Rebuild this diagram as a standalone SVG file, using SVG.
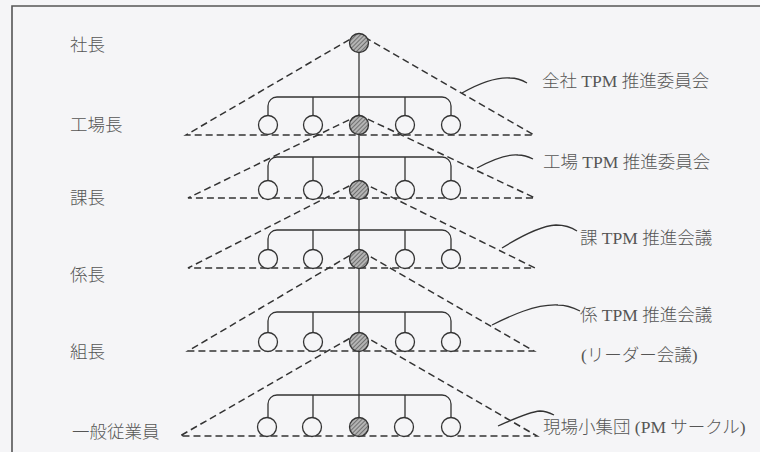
<svg xmlns="http://www.w3.org/2000/svg" width="760" height="452" viewBox="0 0 760 452">
<defs>
<pattern id="hatch" width="3" height="3" patternUnits="userSpaceOnUse" patternTransform="rotate(45)">
<rect width="3" height="3" fill="#b4b4b4"/>
<line x1="0" y1="0" x2="0" y2="3" stroke="#444" stroke-width="1.2"/>
</pattern>
<style>
.bg{fill:#f5f5f7}
.frame{stroke:#555;stroke-width:1.6;fill:none}
.dash{stroke:#333;stroke-width:1.5;stroke-dasharray:7 4;fill:none}
.ln{stroke:#333;stroke-width:1.3;fill:none}
.open{fill:#f5f5f7;stroke:#333;stroke-width:1.3}
.hat{fill:url(#hatch);stroke:#333;stroke-width:1.3}
.t{font-family:"Liberation Serif","Noto Sans CJK JP",serif;font-size:17.5px;font-weight:300;fill:#555}
</style>
</defs>
<rect class="bg" x="0" y="0" width="760" height="452"/>
<path class="frame" d="M12 452 V6 H760"/>

<g id="triangles">
<path class="dash" d="M359 34 L186 135 H534 Z"/>
<path class="dash" d="M359 115 L188 198 H535 Z"/>
<path class="dash" d="M359 181 L188 268 H535 Z"/>
<path class="dash" d="M359 250 L188 351 H534 Z"/>
<path class="dash" d="M359 333 L180 436 H537 Z"/>
</g>

<g id="connectors">
<line class="ln" x1="359" y1="43" x2="359" y2="418"/>
<path class="ln" d="M268 115.5 V106 A9 9 0 0 1 277 97 H442 A9 9 0 0 1 451 106 V115.5 M313 97 V115.5 M405 97 V115.5"/>
<path class="ln" d="M268 180.5 V166 A9 9 0 0 1 277 157 H442 A9 9 0 0 1 451 166 V180.5 M313 157 V180.5 M405 157 V180.5"/>
<path class="ln" d="M268 249.5 V239 A9 9 0 0 1 277 230 H442 A9 9 0 0 1 451 239 V249.5 M313 230 V249.5 M405 230 V249.5"/>
<path class="ln" d="M268 332.5 V321 A9 9 0 0 1 277 312 H442 A9 9 0 0 1 451 321 V332.5 M313 312 V332.5 M405 312 V332.5"/>
<path class="ln" d="M268 417.5 V404 A9 9 0 0 1 277 395 H442 A9 9 0 0 1 451 404 V417.5 M313 395 V417.5 M405 395 V417.5"/>
<path class="ln" d="M462 93 C478 84 496 77 510 78 C517 78 522 80 527 83"/>
<path class="ln" d="M477 168 C490 161 506 154 518 155 C525 155 529 157 533 159"/>
<path class="ln" d="M502 248 C518 238 540 226 556 225 C565 225 571 227 577 231"/>
<path class="ln" d="M492 325 C510 316 535 304 558 305 C568 305 574 308 580 311"/>
<path class="ln" d="M498 426 C512 420 528 412 540 411 C546 411 550 413 554 415"/>
</g>

<g id="level-1">
<circle class="hat" cx="359" cy="43" r="9.5"/>
<text class="t" x="70" y="51">社長</text>
</g>
<g id="level-2">
<circle class="open" cx="268" cy="125" r="9.5"/>
<circle class="open" cx="313" cy="125" r="9.5"/>
<circle class="hat" cx="359" cy="125" r="9.5"/>
<circle class="open" cx="405" cy="125" r="9.5"/>
<circle class="open" cx="451" cy="125" r="9.5"/>
<text class="t" x="70" y="131">工場長</text>
</g>
<g id="level-3">
<circle class="open" cx="268" cy="190" r="9.5"/>
<circle class="open" cx="313" cy="190" r="9.5"/>
<circle class="hat" cx="359" cy="190" r="9.5"/>
<circle class="open" cx="405" cy="190" r="9.5"/>
<circle class="open" cx="451" cy="190" r="9.5"/>
<text class="t" x="70" y="204">課長</text>
</g>
<g id="level-4">
<circle class="open" cx="268" cy="259" r="9.5"/>
<circle class="open" cx="313" cy="259" r="9.5"/>
<circle class="hat" cx="359" cy="259" r="9.5"/>
<circle class="open" cx="405" cy="259" r="9.5"/>
<circle class="open" cx="451" cy="259" r="9.5"/>
<text class="t" x="70" y="281">係長</text>
</g>
<g id="level-5">
<circle class="open" cx="268" cy="342" r="9.5"/>
<circle class="open" cx="313" cy="342" r="9.5"/>
<circle class="hat" cx="359" cy="342" r="9.5"/>
<circle class="open" cx="405" cy="342" r="9.5"/>
<circle class="open" cx="451" cy="342" r="9.5"/>
<text class="t" x="70" y="358">組長</text>
</g>
<g id="level-6">
<circle class="open" cx="267" cy="427" r="9.5"/>
<circle class="open" cx="312" cy="427" r="9.5"/>
<circle class="hat" cx="359" cy="427" r="9.5"/>
<circle class="open" cx="404" cy="427" r="9.5"/>
<circle class="open" cx="451" cy="427" r="9.5"/>
<text class="t" x="72" y="438">一般従業員</text>
</g>

<g id="committee-1"><text class="t" x="542" y="87">全社 TPM 推進委員会</text></g>
<g id="committee-2"><text class="t" x="543" y="168">工場 TPM 推進委員会</text></g>
<g id="committee-3"><text class="t" x="580" y="244">課 TPM 推進会議</text></g>
<g id="committee-4"><text class="t" x="580" y="321">係 TPM 推進会議</text><text class="t" x="581" y="361">(リーダー会議)</text></g>
<g id="committee-5"><text class="t" x="543" y="433">現場小集団 (PM サークル)</text></g>
</svg>
